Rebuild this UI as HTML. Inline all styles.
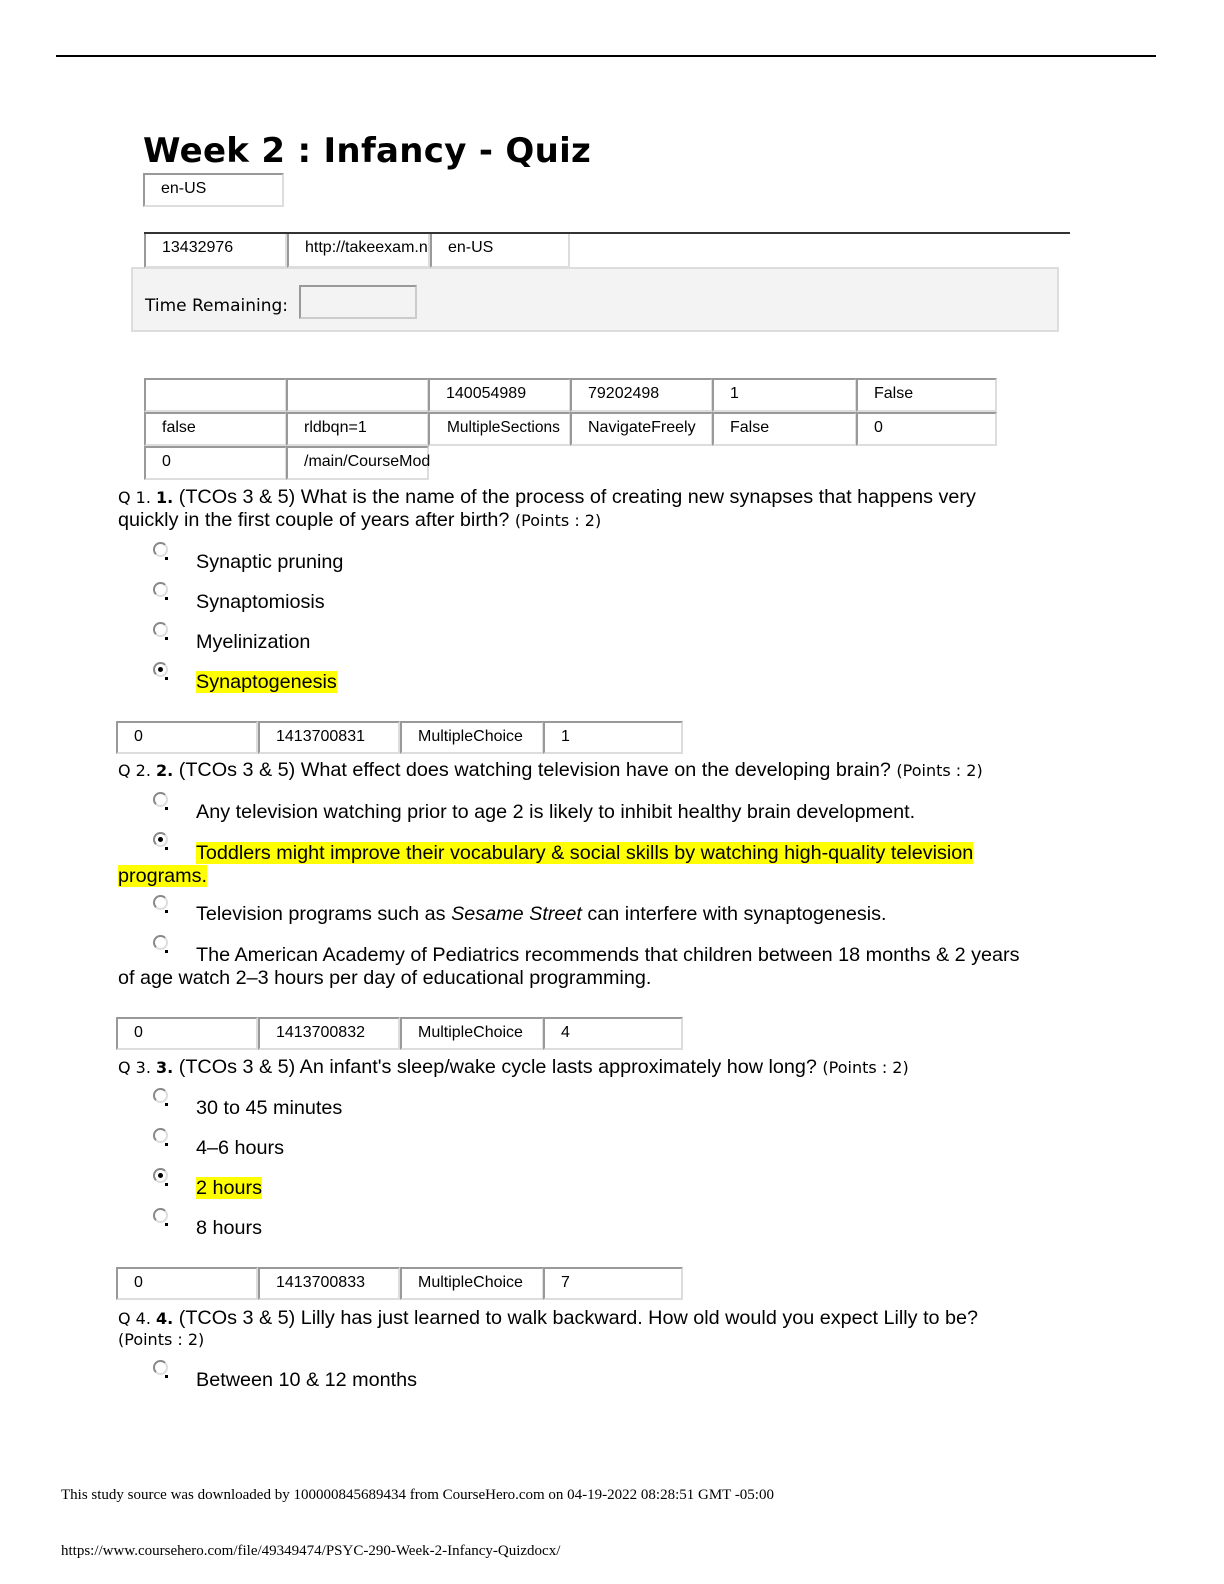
<!DOCTYPE html>
<html><head><meta charset="utf-8"><style>
body{margin:0;width:1224px;height:1584px;background:#fff;position:relative;font-family:"Liberation Sans",sans-serif;color:#000;overflow:hidden}
.a{position:absolute;white-space:nowrap}
.c{position:absolute;box-sizing:border-box;border:2px solid #ddd;border-left-color:#999;border-top-color:#999;font-size:16px;padding-left:16px;line-height:28px}
.q{font-size:19.8px}
.r{position:absolute;width:15px;height:15px;border:2px solid #888;border-radius:50%;border-right-color:#ddd;border-bottom-color:#ddd;box-sizing:border-box}
.r.s::after{content:"";position:absolute;left:3px;top:3px;width:5px;height:5px;background:#000;border-radius:50%}
.r::before{content:"";position:absolute;left:10px;top:13px;width:3px;height:3px;background:#000}
.h{background:#ffff00}
.sm{font-family:"DejaVu Sans",sans-serif;font-size:16px}
</style></head><body>
<div class="a" style="left:56px;top:55px;width:1100px;height:2px;background:#000"></div>
<div class="a" style="left:143px;top:131px;font-family:'DejaVu Sans',sans-serif;font-weight:bold;font-size:34px;letter-spacing:0.3px">Week 2 : Infancy - Quiz</div>
<div class="c" style="left:143px;top:173px;width:141px;height:34px">en-US</div>

<div class="a" style="left:144px;top:232px;width:926px;height:2px;background:#333"></div>
<div class="a" style="left:131px;top:267px;width:928px;height:65px;background:#f3f3f3;border:2px solid #ddd;box-sizing:border-box"></div>
<div class="c" style="left:144px;top:234px;width:143px;height:34px;border-top:none">13432976</div>
<div class="c" style="left:287px;top:234px;width:143px;height:34px;border-top:none">http://takeexam.n</div>
<div class="c" style="left:430px;top:234px;width:140px;height:34px;border-top:none">en-US</div>
<div class="a sm" style="left:145px;top:296px;font-size:17px">Time Remaining:</div>
<div class="a" style="left:299px;top:285px;width:118px;height:34px;border:2px solid #ccc;border-left-color:#999;border-top-color:#999;box-sizing:border-box;background:#f3f3f3"></div>

<div class="c" style="left:144px;top:378px;width:143px;height:34px"></div>
<div class="c" style="left:286px;top:378px;width:143px;height:34px"></div>
<div class="c" style="left:428px;top:378px;width:143px;height:34px">140054989</div>
<div class="c" style="left:570px;top:378px;width:143px;height:34px">79202498</div>
<div class="c" style="left:712px;top:378px;width:145px;height:34px">1</div>
<div class="c" style="left:856px;top:378px;width:141px;height:34px">False</div>
<div class="c" style="left:144px;top:412px;width:143px;height:34px">false</div>
<div class="c" style="left:286px;top:412px;width:143px;height:34px">rldbqn=1</div>
<div class="c" style="left:428px;top:412px;width:143px;height:34px;padding-left:17px;font-size:15.5px">MultipleSections</div>
<div class="c" style="left:570px;top:412px;width:143px;height:34px">NavigateFreely</div>
<div class="c" style="left:712px;top:412px;width:145px;height:34px">False</div>
<div class="c" style="left:856px;top:412px;width:141px;height:34px">0</div>
<div class="c" style="left:144px;top:446px;width:143px;height:34px">0</div>
<div class="c" style="left:286px;top:446px;width:143px;height:34px">/main/CourseMod</div>

<div class="a q" style="left:118px;top:486px"><span class="sm">Q 1. <b>1.</b></span> (TCOs 3 &amp; 5) What is the name of the process of creating new synapses that happens very</div>
<div class="a q" style="left:118px;top:509px">quickly in the first couple of years after birth? <span class="sm">(Points : 2)</span></div>
<div class="r" style="left:153px;top:542px"></div><div class="a q" style="left:196px;top:551px">Synaptic pruning</div>
<div class="r" style="left:153px;top:582px"></div><div class="a q" style="left:196px;top:591px">Synaptomiosis</div>
<div class="r" style="left:153px;top:622px"></div><div class="a q" style="left:196px;top:631px">Myelinization</div>
<div class="r s" style="left:153px;top:662px"></div><div class="a q" style="left:196px;top:671px"><span class="h">Synaptogenesis</span></div>

<div class="c" style="left:116px;top:721px;width:142px;height:33px">0</div>
<div class="c" style="left:258px;top:721px;width:142px;height:33px">1413700831</div>
<div class="c" style="left:400px;top:721px;width:144px;height:33px">MultipleChoice</div>
<div class="c" style="left:543px;top:721px;width:140px;height:33px">1</div>
<div class="a q" style="left:118px;top:759px"><span class="sm">Q 2. <b>2.</b></span> (TCOs 3 &amp; 5) What effect does watching television have on the developing brain? <span class="sm">(Points : 2)</span></div>
<div class="r" style="left:153px;top:792px"></div><div class="a q" style="left:196px;top:801px">Any television watching prior to age 2 is likely to inhibit healthy brain development.</div>
<div class="r s" style="left:153px;top:832px"></div><div class="a q" style="left:196px;top:842px"><span class="h">Toddlers might improve their vocabulary &amp; social skills by watching high-quality television</span></div>
<div class="a q" style="left:118px;top:865px"><span class="h">programs.</span></div>
<div class="r" style="left:153px;top:895px"></div><div class="a q" style="left:196px;top:903px">Television programs such as <i>Sesame Street</i> can interfere with synaptogenesis.</div>
<div class="r" style="left:153px;top:935px"></div><div class="a q" style="left:196px;top:944px">The American Academy of Pediatrics recommends that children between 18 months &amp; 2 years</div>
<div class="a q" style="left:118px;top:967px">of age watch 2–3 hours per day of educational programming.</div>

<div class="c" style="left:116px;top:1017px;width:142px;height:33px">0</div>
<div class="c" style="left:258px;top:1017px;width:142px;height:33px">1413700832</div>
<div class="c" style="left:400px;top:1017px;width:144px;height:33px">MultipleChoice</div>
<div class="c" style="left:543px;top:1017px;width:140px;height:33px">4</div>
<div class="a q" style="left:118px;top:1056px"><span class="sm">Q 3. <b>3.</b></span> (TCOs 3 &amp; 5) An infant's sleep/wake cycle lasts approximately how long? <span class="sm">(Points : 2)</span></div>
<div class="r" style="left:153px;top:1088px"></div><div class="a q" style="left:196px;top:1097px">30 to 45 minutes</div>
<div class="r" style="left:153px;top:1128px"></div><div class="a q" style="left:196px;top:1137px">4–6 hours</div>
<div class="r s" style="left:153px;top:1168px"></div><div class="a q" style="left:196px;top:1177px"><span class="h">2 hours</span></div>
<div class="r" style="left:153px;top:1208px"></div><div class="a q" style="left:196px;top:1217px">8 hours</div>

<div class="c" style="left:116px;top:1267px;width:142px;height:33px">0</div>
<div class="c" style="left:258px;top:1267px;width:142px;height:33px">1413700833</div>
<div class="c" style="left:400px;top:1267px;width:144px;height:33px">MultipleChoice</div>
<div class="c" style="left:543px;top:1267px;width:140px;height:33px">7</div>
<div class="a q" style="left:118px;top:1307px"><span class="sm">Q 4. <b>4.</b></span> (TCOs 3 &amp; 5) Lilly has just learned to walk backward. How old would you expect Lilly to be?</div>
<div class="a sm" style="left:118px;top:1330px">(Points : 2)</div>
<div class="r" style="left:153px;top:1360px"></div><div class="a q" style="left:196px;top:1369px">Between 10 &amp; 12 months</div>

<div class="a" style="left:61px;top:1487px;font-family:'Liberation Serif',serif;font-size:15px">This study source was downloaded by 100000845689434 from CourseHero.com on 04-19-2022 08:28:51 GMT -05:00</div>
<div class="a" style="left:61px;top:1543px;font-family:'Liberation Serif',serif;font-size:15px">https://www.coursehero.com/file/49349474/PSYC-290-Week-2-Infancy-Quizdocx/</div>
</body></html>
